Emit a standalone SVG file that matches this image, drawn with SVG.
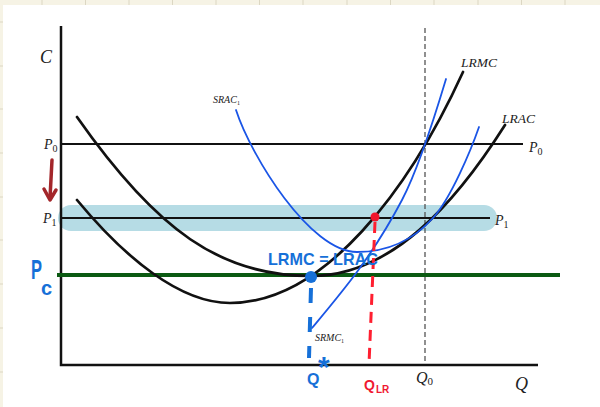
<svg xmlns="http://www.w3.org/2000/svg" width="600" height="407" viewBox="0 0 600 407">
<style>
.ax{stroke:#111;stroke-width:2.5;fill:none}
.hl{stroke:#111;stroke-width:1.8}
.blk{stroke:#111;stroke-width:2.7;fill:none;stroke-linecap:round}
.blu{stroke:#1a55e6;stroke-width:1.8;fill:none;stroke-linecap:round}
.lbl{font-family:"Liberation Serif",serif;font-style:italic;fill:#222}
.sub{font-style:normal}
.hand{font-family:"Liberation Sans",sans-serif;font-weight:bold;fill:#1670d8}
.grid{stroke:#dcd7c3;stroke-width:1}
</style>
<rect width="600" height="407" fill="#f6f3e5"/>
<g id="grid">
<path class="grid" d="M42,0V5M85.5,0V5M129,0V5M172.5,0V5M216,0V5M259.5,0V5M303,0V5M347,0V5M390.5,0V5M434,0V5M478,0V5M521.5,0V5M565,0V5"/>
<path class="grid" d="M0,22H3M0,66H3M0,109H3M0,153H3M0,197H3M0,240H3M0,284H3M0,328H3M0,372H3"/>
</g>
<rect x="3" y="5" width="597" height="402" fill="#ffffff"/>
<g id="band"><rect x="58" y="205" width="439" height="26" rx="13" fill="#b6dce5"/></g>
<g id="q0-line"><line x1="425" y1="28" x2="425" y2="365" stroke="#555" stroke-width="1.3" stroke-dasharray="5,3"/></g>
<g id="axes"><path class="ax" d="M61,26V365H538"/></g>
<g id="price-lines">
<line class="hl" x1="61" y1="144" x2="523" y2="144"/>
<line class="hl" x1="61" y1="218" x2="490" y2="218"/>
<line x1="57" y1="275" x2="560" y2="275" stroke="#0b5a12" stroke-width="4"/>
</g>
<g id="curves">
<path id="LRAC" class="blk" d="M77,117 C157,231 221,276 311,276 C391,276 455,204 505,125"/>
<path id="LRMC" class="blk" d="M77,200 C125,258 180,303 230,303 C325,303 410,188 463,72"/>
<path id="SRAC1" class="blu" d="M236,110 C251,156 310,252 357,252 C390,252 415,238 433,218 C451,198 471,150 479,127"/>
<path id="SRMC1" class="blu" d="M312,328 C342,292 372,257 402,200 C417,171.5 434,119 446,79"/>
</g>
<g id="annotations">
<line x1="311" y1="288" x2="309" y2="358" stroke="#1670d8" stroke-width="4" stroke-dasharray="15,14"/>
<line x1="375" y1="222" x2="369" y2="364" stroke="#ff1f30" stroke-width="3" stroke-dasharray="11,7"/>
<circle cx="311" cy="277" r="6" fill="#1670d8"/>
<circle cx="375" cy="217" r="4.5" fill="#f0142a"/>
<g id="arrow" stroke="#a3262a" stroke-width="3.5" fill="none" stroke-linecap="round" stroke-linejoin="round">
<line x1="52" y1="160" x2="50" y2="198"/>
<polyline points="44,189 50,200 56,190"/>
</g>
</g>
<g id="labels">
<text class="lbl" x="40" y="63" font-size="18">C</text>
<text class="lbl" x="44" y="149" font-size="14">P<tspan class="sub" font-size="10" dy="3">0</tspan></text>
<text class="lbl" x="529" y="152" font-size="14">P<tspan class="sub" font-size="10" dy="3">0</tspan></text>
<text class="lbl" x="43" y="223" font-size="14">P<tspan class="sub" font-size="10" dy="3">1</tspan></text>
<text class="lbl" x="495" y="225" font-size="14">P<tspan class="sub" font-size="10" dy="3">1</tspan></text>
<text class="lbl" x="416" y="383" font-size="16">Q<tspan class="sub" font-size="11" dy="2">0</tspan></text>
<text class="lbl" x="515" y="390" font-size="18">Q</text>
<text class="lbl" x="461" y="67" font-size="13.5">LRMC</text>
<text class="lbl" x="502" y="123" font-size="13.5">LRAC</text>
<text class="lbl" x="213" y="103" font-size="10" fill="#333">SRAC<tspan class="sub" font-size="6" dy="2">1</tspan></text>
<text class="lbl" x="315" y="341" font-size="10" fill="#333">SRMC<tspan class="sub" font-size="6" dy="2">1</tspan></text>
<text class="hand" x="268" y="265" font-size="17" textLength="110" lengthAdjust="spacingAndGlyphs">LRMC = LRAC</text>
<text class="hand" x="31" y="279" font-size="28" textLength="11" lengthAdjust="spacingAndGlyphs">P</text>
<text class="hand" x="41" y="295" font-size="20">c</text>
<text class="hand" x="307" y="385" font-size="16">Q</text>
<text class="hand" x="318" y="377" font-size="30">*</text>
<text class="hand" x="364" y="390" font-size="14" style="fill:#f01830">Q</text>
<text class="hand" x="376" y="393" font-size="10" style="fill:#f01830">LR</text>
</g>
</svg>
